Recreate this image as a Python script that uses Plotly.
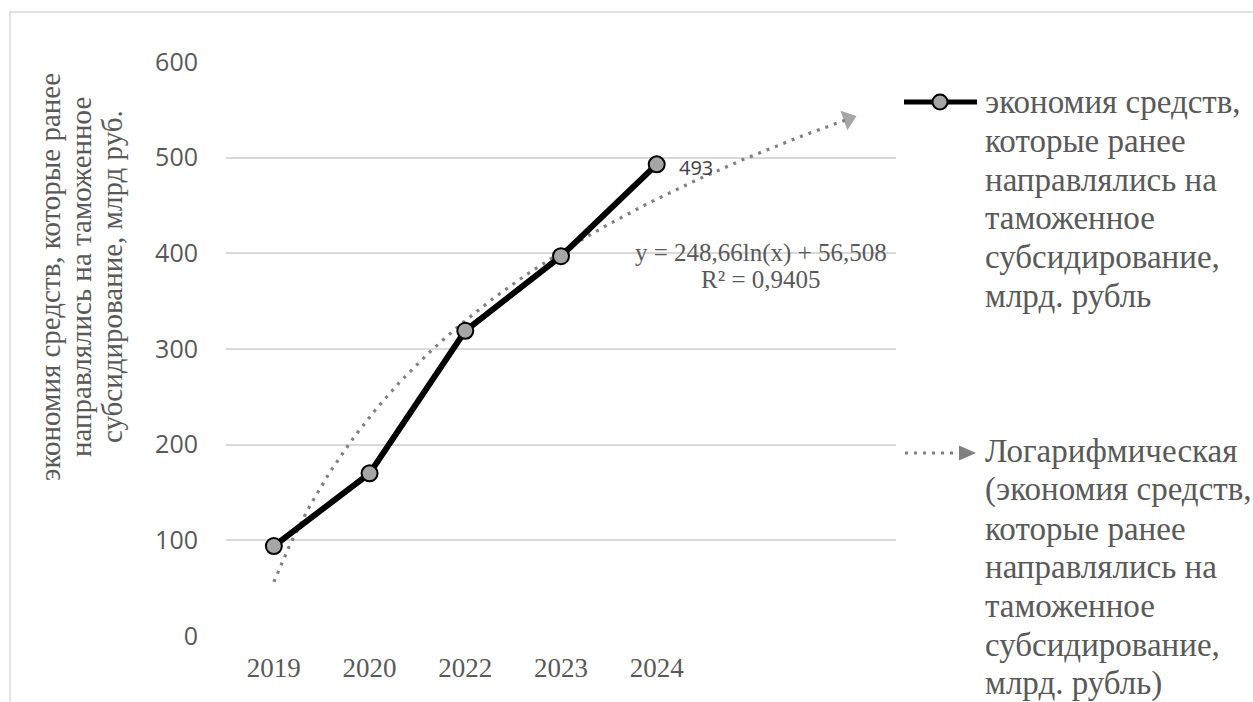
import numpy as np
import plotly.graph_objects as go

# --- data ---------------------------------------------------------------
years = ["2019", "2020", "2022", "2023", "2024"]
savings = [94, 170, 319, 397, 493]          # млрд руб.
series_name_lines = ["экономия средств,", "которые ранее", "направлялись на",
                     "таможенное", "субсидирование,", "млрд. рубль"]
trend_name_lines = ["Логарифмическая", "(экономия средств,", "которые ранее",
                    "направлялись на", "таможенное", "субсидирование,", "млрд. рубль)"]
axis_title_lines = ["экономия средств, которые ранее",
                    "направлялись на таможенное",
                    "субсидирование, млрд руб."]
y_ticks = [0, 100, 200, 300, 400, 500, 600]

# logarithmic trendline y = a*ln(x) + b, forecast two periods ahead
trend_a = 248.66
trend_b = 56.508
trend_r2 = 0.9405
forecast_periods = 2

# --- layout geometry (pixels) -------------------------------------------
W, H = 1253, 702
PL, PR, PT, PB = 226, 896, 62, 636   # plot area box


def px(x):
    return (x - PL) / (PR - PL)


def py(y):
    return (PB - y) / (PB - PT)


GRID = "#D9D9D9"
TEXT = "#595959"
SERIF = "Liberation Serif"
SANS = "Open Sans"

x_pos = np.arange(1, len(years) + 1)
x_trend = np.linspace(1, len(years) + forecast_periods, 120)
y_trend = trend_a * np.log(x_trend) + trend_b

fig = go.Figure()

# trendline (dotted) with arrow head at its end
fig.add_trace(go.Scatter(
    x=x_trend, y=y_trend, mode="lines",
    line=dict(color="#808080", width=3.2, dash="3px,6px"),
    hoverinfo="skip", showlegend=False,
))
fig.add_trace(go.Scatter(
    x=x_trend[-3:], y=y_trend[-3:], mode="markers",
    marker=dict(symbol="triangle-up", angleref="previous",
                size=[0, 0, 18], color="#808080", line=dict(width=0)),
    hoverinfo="skip", showlegend=False, cliponaxis=False,
))

# main series
fig.add_trace(go.Scatter(
    x=x_pos, y=savings, mode="lines+markers",
    line=dict(color="#000000", width=6),
    marker=dict(size=16, color="#A6A6A6", line=dict(color="#000000", width=2)),
    showlegend=False, cliponaxis=False,
))

annotations = []

# data label for the last point
annotations.append(dict(
    x=x_pos[-1], y=savings[-1], text=str(savings[-1]), showarrow=False,
    xanchor="left", yanchor="middle", xshift=20, yshift=-3,
    font=dict(family=SANS, size=20, color="#404040"),
))

# trendline equation
eq_x = 6.09
annotations.append(dict(
    x=eq_x, y=400, text=f"y = {trend_a:.2f}ln(x) + {trend_b:.3f}".replace(".", ","),
    showarrow=False, xanchor="center", yanchor="middle",
    font=dict(family=SERIF, size=25, color=TEXT),
))
annotations.append(dict(
    x=eq_x, y=373, text=f"R² = {trend_r2:.4f}".replace(".", ","),
    showarrow=False, xanchor="center", yanchor="middle",
    font=dict(family=SERIF, size=25, color=TEXT),
))

# vertical axis title, one annotation per line
for i, line in enumerate(axis_title_lines):
    annotations.append(dict(
        xref="paper", yref="paper", x=px(50 + i * 31), y=py(277),
        text=line, textangle=-90, showarrow=False,
        xanchor="center", yanchor="middle",
        font=dict(family=SERIF, size=29, color=TEXT),
    ))

# legend text
LEG_X = 983
LINE_H = 38.8
for i, line in enumerate(series_name_lines):
    annotations.append(dict(
        xref="paper", yref="paper", x=px(LEG_X), y=py(102 + i * LINE_H),
        text=line, showarrow=False, xanchor="left", yanchor="middle",
        font=dict(family=SERIF, size=33, color=TEXT),
    ))
for i, line in enumerate(trend_name_lines):
    annotations.append(dict(
        xref="paper", yref="paper", x=px(LEG_X), y=py(451 + i * LINE_H),
        text=line, showarrow=False, xanchor="left", yanchor="middle",
        font=dict(family=SERIF, size=33, color=TEXT),
    ))

shapes = [
    # chart frame
    dict(type="rect", xref="paper", yref="paper",
         x0=px(10), x1=px(W + 20), y0=py(H + 20), y1=py(12),
         line=dict(color=GRID, width=1.5), fillcolor="rgba(0,0,0,0)", layer="below"),
    # legend: series sample
    dict(type="line", xref="paper", yref="paper",
         x0=px(904), x1=px(977), y0=py(102), y1=py(102),
         line=dict(color="#000000", width=5)),
    dict(type="circle", xref="paper", yref="paper",
         x0=px(932.5), x1=px(947.5), y0=py(109.5), y1=py(94.5),
         line=dict(color="#000000", width=2), fillcolor="#A6A6A6"),
    # legend: trendline sample
    dict(type="line", xref="paper", yref="paper",
         x0=px(905), x1=px(960), y0=py(453), y1=py(453),
         line=dict(color="#808080", width=3, dash="3px,6px")),
    dict(type="path", xref="paper", yref="paper",
         path=(f"M {px(959)} {py(445.5)} L {px(976)} {py(453)} "
               f"L {px(959)} {py(460.5)} Z"),
         line=dict(color="#808080", width=0), fillcolor="#808080"),
]

fig.update_layout(
    width=W, height=H,
    margin=dict(l=PL, r=W - PR, t=PT, b=H - PB, autoexpand=False),
    paper_bgcolor="#FFFFFF", plot_bgcolor="#FFFFFF",
    showlegend=False,
    annotations=annotations, shapes=shapes,
    xaxis=dict(
        range=[0.5, len(years) + forecast_periods + 0.5],
        tickmode="array", tickvals=list(x_pos), ticktext=years,
        showgrid=False, zeroline=False, showline=False,
        ticks="outside", ticklen=8, tickcolor="rgba(0,0,0,0)",
        tickfont=dict(family=SERIF, size=27, color=TEXT),
        fixedrange=True,
    ),
    yaxis=dict(
        range=[0, 600], tickmode="array", tickvals=y_ticks,
        showgrid=True, gridcolor=GRID, gridwidth=2,
        zeroline=False, showline=False,
        ticks="outside", ticklen=22, tickcolor="rgba(0,0,0,0)",
        tickfont=dict(family=SANS, size=25, color=TEXT),
        fixedrange=True,
    ),
)

fig.write_html("out.html")
